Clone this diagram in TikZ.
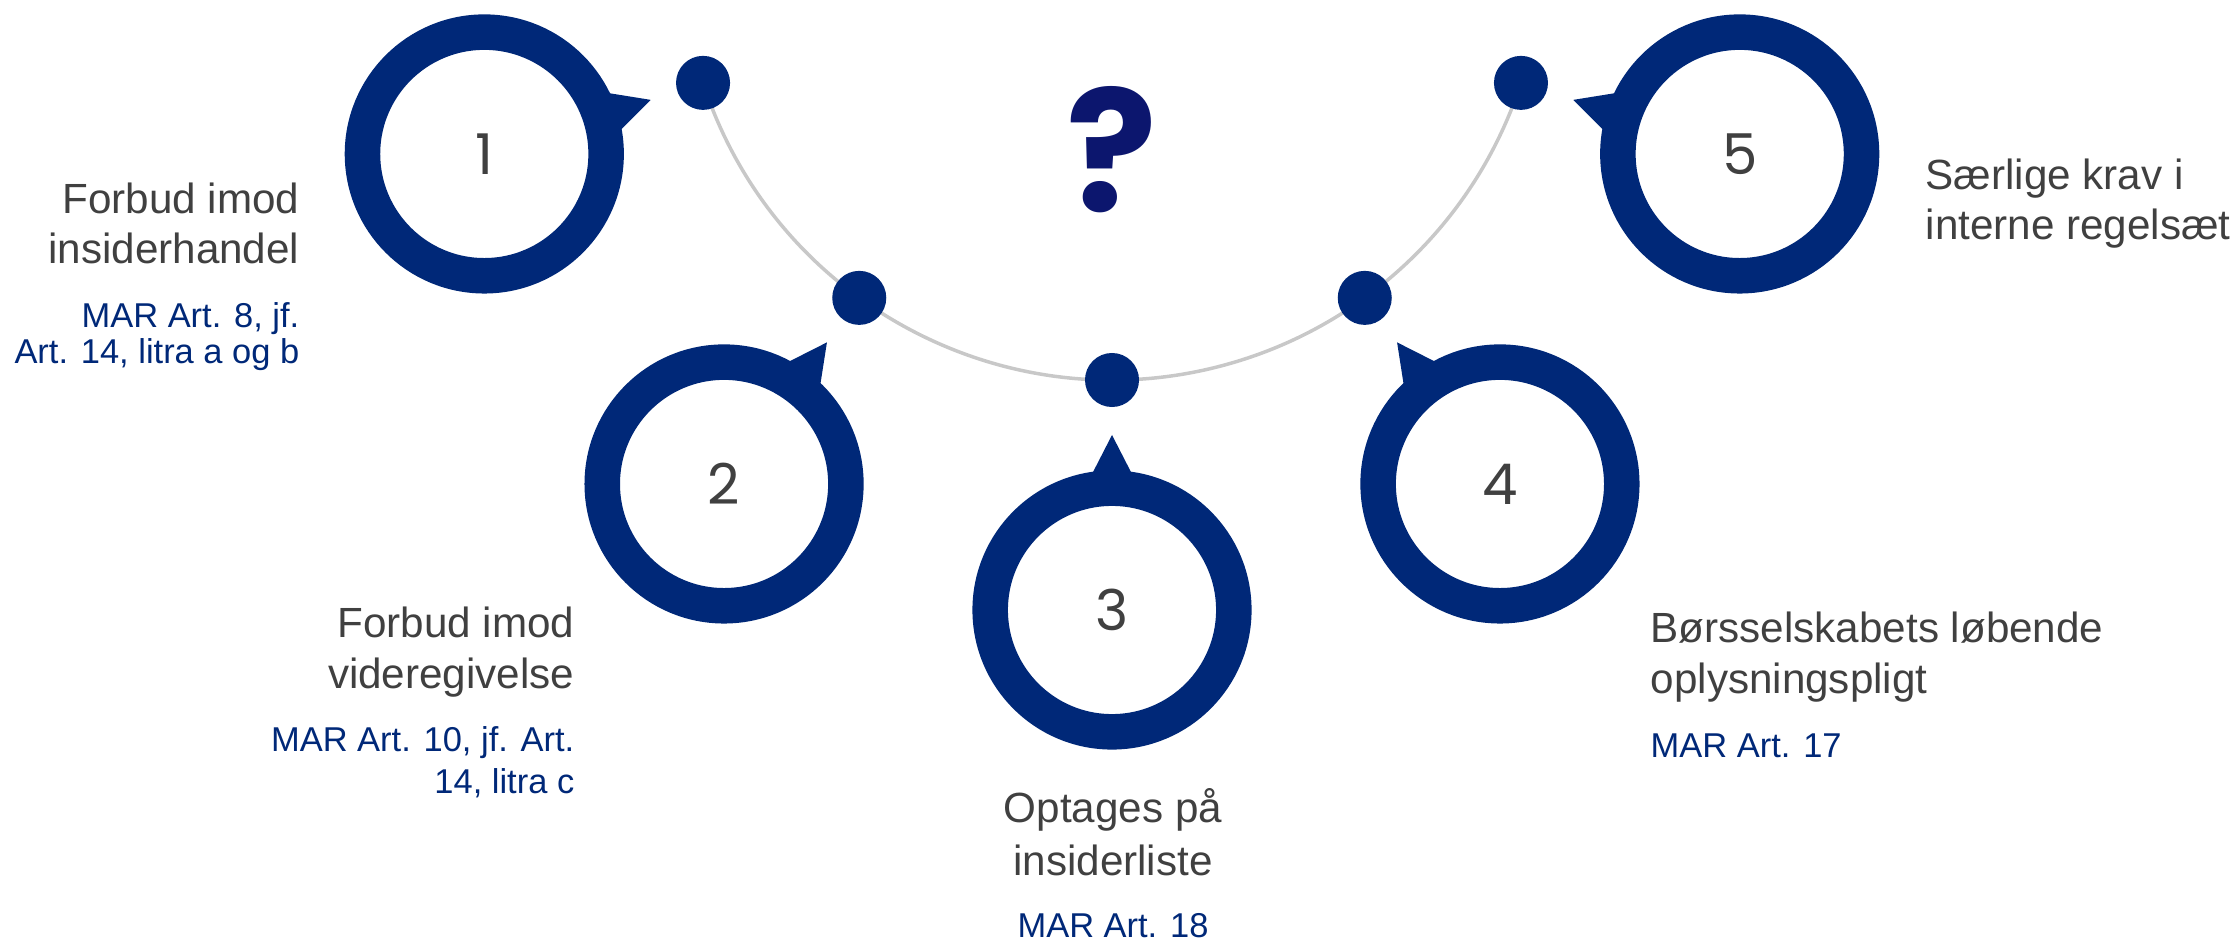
\documentclass[tikz,border=0pt]{standalone}
\usepackage{fontspec}
\setmainfont{Liberation Sans}
\newfontfamily\numfont{Poppins}
\usetikzlibrary{calc}
\pgfdeclarelayer{background}
\pgfsetlayers{background,main}
\definecolor{navy}{RGB}{0,40,120}
\definecolor{txtgray}{RGB}{64,64,64}
\definecolor{arcgray}{RGB}{200,200,200}
\definecolor{qnavy}{RGB}{12,22,110}
\begin{document}
\begin{tikzpicture}[x=0.01cm,y=-0.01cm,
  ring/.style={circle, draw=navy, fill=white, line width=0.355cm, minimum size=2.435cm, inner sep=0pt, font=\numfont\fontsize{16}{16}\selectfont, text=txtgray},
  dotnode/.style={circle, fill=navy, minimum size=0.54cm, inner sep=0pt},
  pointer/.style={fill=navy},
  arcline/.style={draw=arcgray, line width=0.035cm},
  title/.style={font=\fontsize{12}{14.3}\selectfont, text=txtgray, inner sep=0pt},
  ref/.style={font=\fontsize{9.8}{10.4}\selectfont, text=navy, inner sep=0pt},
]
\useasboundingbox (0,0) rectangle (2239,943);
\coordinate (C) at (1112,-50);
% dots on the arc
\foreach \i/\a in {1/162,2/126,3/90,4/54,5/18} {
  \node[dotnode] (d\i) at ($(C)+(\a:430)$) {};
}
\begin{pgfonlayer}{background}
  \draw[arcline] (d1.center) arc[start angle=162, end angle=18, radius=430];
\end{pgfonlayer}
% pointers and rings
\foreach \i/\a in {1/162,2/126,3/90,4/54,5/18} {
  \fill[pointer] ($(C)+(\a:485)$) -- ($(C)+(\a-3:541)$) -- ($(C)+(\a+3:541)$) -- cycle;
  \node[ring] (n\i) at ($(C)+(\a:660)$) {\i};
}
% question mark
\node[font=\numfont\bfseries\fontsize{48}{48}\selectfont, text=qnavy, anchor=base, inner sep=0pt] (q) at (1112,212) {?};
% texts (anchored at the baseline of their last line)
\node[title, anchor=base east, align=right] (t1) at (300,264) {Forbud imod\\insiderhandel};
\node[ref, anchor=base east, align=right, font=\fontsize{9.8}{10.3}\selectfont] (r1) at (300,364) {MAR Art. 8, jf.\\Art. 14, litra a og b};
\node[title, anchor=base east, align=right] (t2) at (575,688) {Forbud imod\\videregivelse};
\node[ref, anchor=base east, align=right, font=\fontsize{9.8}{11.9}\selectfont] (r2) at (575,793) {MAR Art. 10, jf. Art.\\14, litra c};
\node[title, anchor=base, align=center, font=\fontsize{12}{14.8}\selectfont] (t3) at (1113,875) {Optages på\\insiderliste};
\node[ref, anchor=base] (r3) at (1113,937) {MAR Art. 18};
\node[title, anchor=base west, align=left] (t4) at (1650,693) {Børsselskabets løbende\\oplysningspligt};
\node[ref, anchor=base west] (r4) at (1650,757) {MAR Art. 17};
\node[title, anchor=base west, align=left] (t5) at (1925,240) {Særlige krav i\\interne regelsæt};
\end{tikzpicture}
\end{document}
